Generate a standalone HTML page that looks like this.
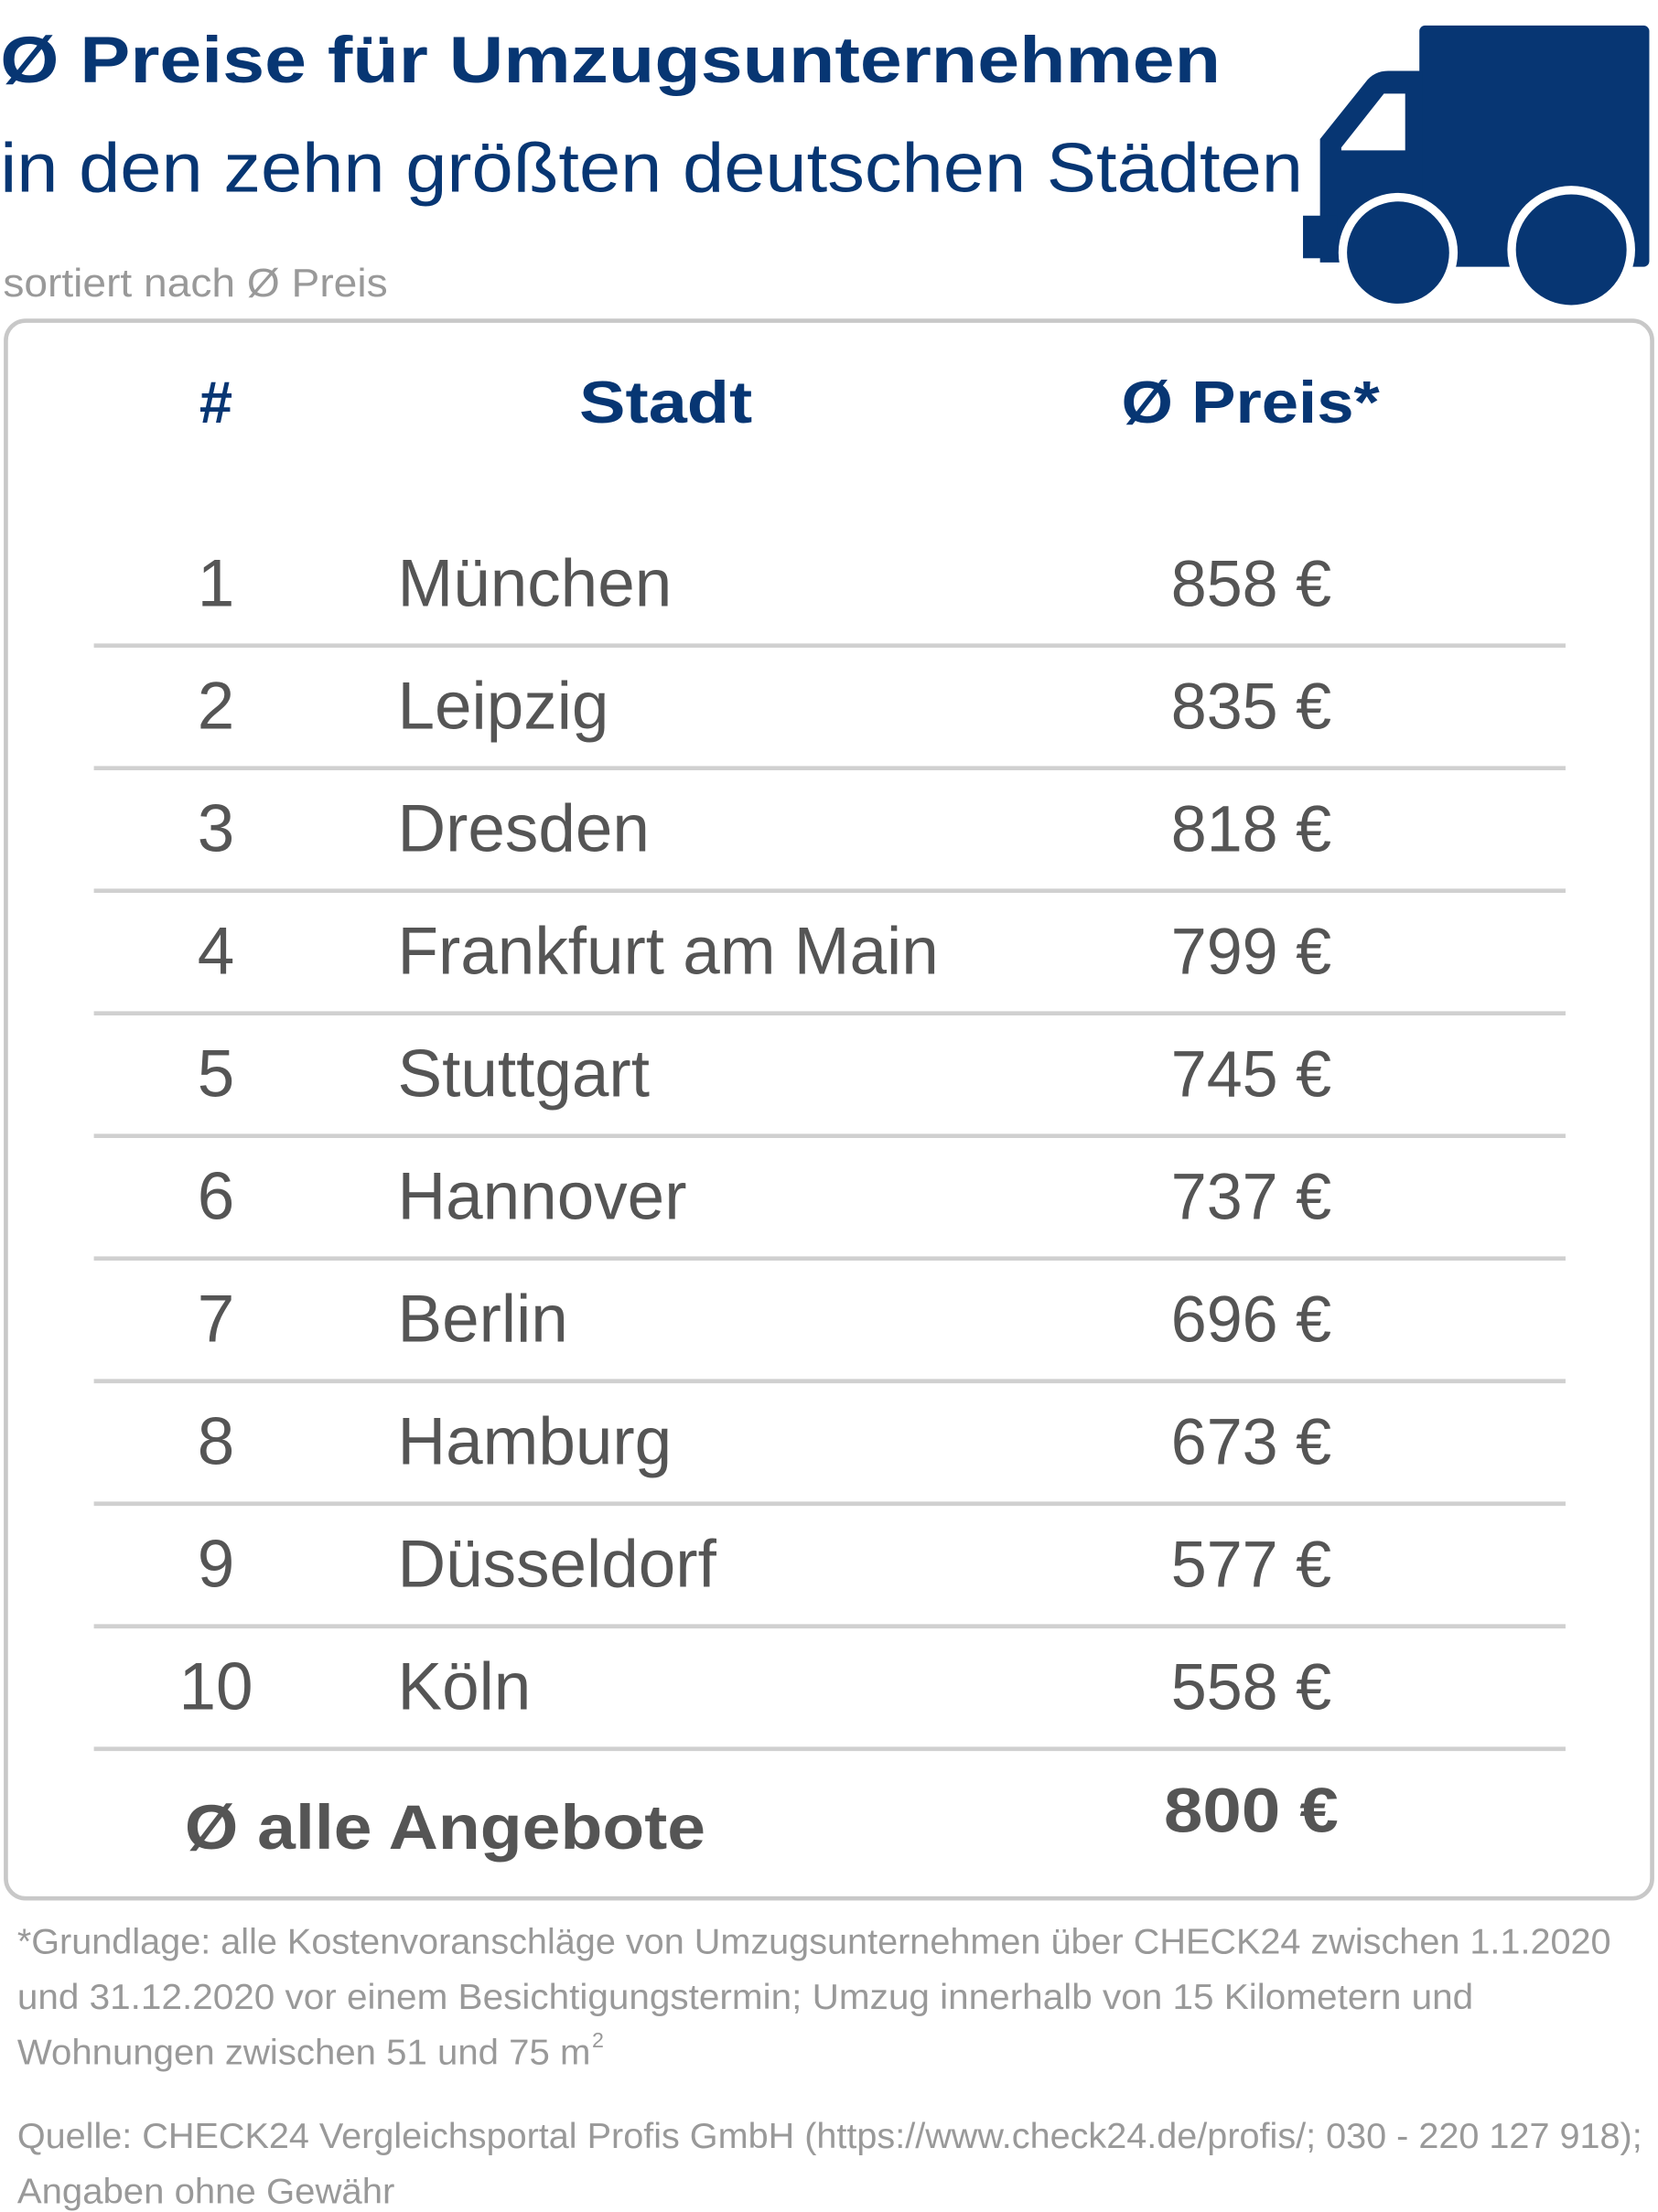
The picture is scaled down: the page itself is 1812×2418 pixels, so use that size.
<!DOCTYPE html>
<html><head><meta charset="utf-8">
<style>
html,body{margin:0;padding:0;background:#fff;}
svg{display:block;font-family:"Liberation Sans",sans-serif;}
</style></head>
<body>
<svg id="chart" width="1812" height="2418" viewBox="0 0 1168 1559" xmlns="http://www.w3.org/2000/svg">
  <text x="0" y="58" font-size="46" font-weight="bold" fill="#073673" textLength="860" lengthAdjust="spacingAndGlyphs">Ø Preise für Umzugsunternehmen</text>
  <text x="0" y="135" font-size="49" fill="#073673" textLength="918" lengthAdjust="spacingAndGlyphs">in den zehn größten deutschen Städten</text>
  <text x="2" y="209" font-size="28" fill="#999" textLength="271" lengthAdjust="spacingAndGlyphs">sortiert nach Ø Preis</text>

  <g fill="#073673">
    <rect x="1000" y="18" width="162" height="170" rx="4"/>
    <path d="M930,98 L962,58 Q968,50 978,50 L1002,50 L1002,185 L930,185 Z"/>
    <rect x="918" y="152" width="24" height="30"/>
    <polygon points="945,104 975,66 990,66 990,106 945,106" fill="#fff"/>
    <circle cx="985" cy="178" r="42" fill="#fff"/>
    <circle cx="985" cy="178" r="36"/>
    <circle cx="1107" cy="176" r="45" fill="#fff"/>
    <circle cx="1107" cy="176" r="39"/>
  </g>

  <rect x="4" y="226" width="1160" height="1112" rx="14" fill="none" stroke="#c8c8c8" stroke-width="3"/>

  <g font-weight="bold" fill="#073673" font-size="42">
    <text x="152" y="298" text-anchor="middle">#</text>
    <text x="408" y="298" textLength="122" lengthAdjust="spacingAndGlyphs">Stadt</text>
    <text x="790" y="298" textLength="182" lengthAdjust="spacingAndGlyphs">Ø Preis*</text>
  </g>

  <g id="rows"></g>

  <text x="130" y="1303" font-size="44" font-weight="bold" fill="#555" textLength="367" lengthAdjust="spacingAndGlyphs">Ø alle Angebote</text>
  <text x="820" y="1291" font-size="44" font-weight="bold" fill="#555" textLength="123" lengthAdjust="spacingAndGlyphs">800 €</text>

  <g font-size="25" fill="#999">
    <text x="12" y="1377" textLength="1123" lengthAdjust="spacingAndGlyphs">*Grundlage: alle Kostenvoranschläge von Umzugsunternehmen über CHECK24 zwischen 1.1.2020</text>
    <text x="12" y="1416" textLength="1026" lengthAdjust="spacingAndGlyphs">und 31.12.2020 vor einem Besichtigungstermin; Umzug innerhalb von 15 Kilometern und</text>
    <text x="12" y="1455" textLength="404" lengthAdjust="spacingAndGlyphs">Wohnungen zwischen 51 und 75 m</text>
    <text x="417" y="1443" font-size="15">2</text>
  </g>
  <g font-size="25" fill="#999">
    <text x="12" y="1514" textLength="1145" lengthAdjust="spacingAndGlyphs">Quelle: CHECK24 Vergleichsportal Profis GmbH (https://www.check24.de/profis/; 030 - 220 127 918);</text>
    <text x="12" y="1553" textLength="266" lengthAdjust="spacingAndGlyphs">Angaben ohne Gewähr</text>
  </g>
</svg>
<script>
const ranks = [1,2,3,4,5,6,7,8,9,10];
const cities = ["München","Leipzig","Dresden","Frankfurt am Main","Stuttgart","Hannover","Berlin","Hamburg","Düsseldorf","Köln"];
const prices = [858,835,818,799,745,737,696,673,577,558];

const NS = "http://www.w3.org/2000/svg";
const g = document.getElementById("rows");
const rowY = i => 427 + i * 86.4;
cities.forEach((c, i) => {
  const y = rowY(i);
  const n = document.createElementNS(NS, "text");
  
  
  n.setAttribute("x", 152); n.setAttribute("y", y);
  n.setAttribute("text-anchor", "middle"); n.setAttribute("font-size", "47"); n.setAttribute("fill", "#555");
  n.textContent = ranks[i]; g.appendChild(n);

  const t = document.createElementNS(NS, "text");
  
  
  t.setAttribute("x", 280); t.setAttribute("y", y);
  t.setAttribute("font-size", "47"); t.setAttribute("fill", "#555");
  t.textContent = c; g.appendChild(t);

  const p = document.createElementNS(NS, "text");
  
  
  p.setAttribute("x", 825); p.setAttribute("y", y);
  p.setAttribute("font-size", "46"); p.setAttribute("fill", "#555");
  p.setAttribute("textLength", "113"); p.setAttribute("lengthAdjust", "spacingAndGlyphs");
  p.textContent = prices[i] + " €"; g.appendChild(p);

  const l = document.createElementNS(NS, "line");
  
  
  l.setAttribute("x1", 66); l.setAttribute("x2", 1103);
  l.setAttribute("y1", y + 28); l.setAttribute("y2", y + 28);
  l.setAttribute("stroke", "#d0d0d0"); l.setAttribute("stroke-width", "3");
  g.appendChild(l);
});
</script>
</body></html>
